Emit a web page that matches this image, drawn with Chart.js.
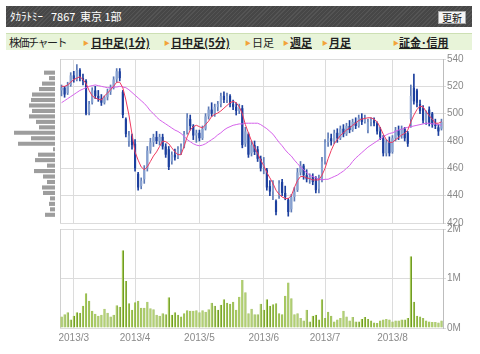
<!DOCTYPE html>
<html><head><meta charset="utf-8">
<script src="https://cdn.jsdelivr.net/npm/chart.js@4.4.1/dist/chart.umd.min.js"></script>
<style>
html,body{margin:0;padding:0;background:#fff;width:480px;height:354px;overflow:hidden;font-family:"Noto Sans CJK JP",sans-serif;}
#hdr{position:absolute;left:6px;top:6px;width:466px;height:21px;background:#474747 repeating-linear-gradient(-45deg,rgba(255,255,255,0.07) 0 1px,rgba(0,0,0,0) 1px 3px);}
.h{position:absolute;top:3px;color:#fff;font-size:11px;line-height:15px;white-space:pre;}
#btn{position:absolute;left:432px;top:5px;width:26px;height:11px;background:#f4f4f4;border:1px solid #aaa;font-size:10px;line-height:11px;text-align:center;color:#111;}
#tabs{position:absolute;left:6px;top:33px;width:466px;height:16px;background:#e8f4d9;border-top:1px solid #cde0b4;}
.t{position:absolute;top:0;font-size:11px;line-height:17px;color:#222;white-space:nowrap;}
.u{font-weight:bold;text-decoration:underline;}
.a{position:absolute;top:0;font-size:6px;line-height:17px;color:#f2a33a;}
canvas{position:absolute;}
#prof{left:0;top:50px;}
#price{left:0;top:50px;}
#vol{left:0;top:222px;}
</style></head>
<body>
<div id="hdr">
<span class="h" style="left:4px">ﾀｶﾗﾄﾐｰ</span><span class="h" style="left:45px">7867</span><span class="h" style="left:74px">東京 1部</span>
<span id="btn">更新</span>
</div>
<div id="tabs">
<span class="t" style="left:3px;letter-spacing:-1.5px">株価チャート</span>
<span class="a" style="left:77px">▶</span><span class="t u" style="left:85px">日中足(1分)</span>
<span class="a" style="left:158px">▶</span><span class="t u" style="left:165px">日中足(5分)</span>
<span class="a" style="left:239px">▶</span><span class="t" style="left:246px">日足</span>
<span class="a" style="left:277px">▶</span><span class="t u" style="left:284px">週足</span>
<span class="a" style="left:316px">▶</span><span class="t u" style="left:323px">月足</span>
<span class="a" style="left:387px">▶</span><span class="t u" style="left:393px">証金･信用</span>
</div>
<canvas id="prof" width="60" height="182"></canvas>
<canvas id="price" width="480" height="182"></canvas>
<canvas id="vol" width="480" height="132"></canvas>
<script>
const dates = [
'2013/2/25','2013/2/26','2013/2/27','2013/2/28',
'2013/3/1','2013/3/4','2013/3/5','2013/3/6','2013/3/7','2013/3/8','2013/3/11','2013/3/12','2013/3/13','2013/3/14','2013/3/15','2013/3/18','2013/3/19','2013/3/21','2013/3/22','2013/3/25','2013/3/26','2013/3/27','2013/3/28','2013/3/29',
'2013/4/1','2013/4/2','2013/4/3','2013/4/4','2013/4/5','2013/4/8','2013/4/9','2013/4/10','2013/4/11','2013/4/12','2013/4/15','2013/4/16','2013/4/17','2013/4/18','2013/4/19','2013/4/22','2013/4/23','2013/4/24','2013/4/25','2013/4/26','2013/4/30',
'2013/5/1','2013/5/2','2013/5/7','2013/5/8','2013/5/9','2013/5/10','2013/5/13','2013/5/14','2013/5/15','2013/5/16','2013/5/17','2013/5/20','2013/5/21','2013/5/22','2013/5/23','2013/5/24','2013/5/27','2013/5/28','2013/5/29','2013/5/30','2013/5/31',
'2013/6/3','2013/6/4','2013/6/5','2013/6/6','2013/6/7','2013/6/10','2013/6/11','2013/6/12','2013/6/13','2013/6/14','2013/6/17','2013/6/18','2013/6/19','2013/6/20','2013/6/21','2013/6/24','2013/6/25','2013/6/26','2013/6/27','2013/6/28',
'2013/7/1','2013/7/2','2013/7/3','2013/7/4','2013/7/5','2013/7/8','2013/7/9','2013/7/10','2013/7/11','2013/7/12','2013/7/16','2013/7/17','2013/7/18','2013/7/19','2013/7/22','2013/7/23','2013/7/24','2013/7/25','2013/7/26','2013/7/29','2013/7/30','2013/7/31',
'2013/8/1','2013/8/2','2013/8/5','2013/8/6','2013/8/7','2013/8/8','2013/8/9','2013/8/12','2013/8/13','2013/8/14','2013/8/15','2013/8/16','2013/8/19','2013/8/20','2013/8/21','2013/8/22','2013/8/23'];

const openP = [517,519,515,521,528,525,532,526,524,501,508,517,513,511,508,512,516,519,525,531,
516,496,480,484,478,456,447,452,460,473,479,483,480,483,476,474,465,470,468,474,
476,486,496,491,484,486,482,489,498,503,500,505,507,513,510,513,507,505,502,504,
478,485,471,477,474,467,461,459,447,443,436,440,450,442,437,430,439,444,457,462,
455,452,454,453,445,452,465,479,482,480,486,482,489,485,491,488,494,491,497,494,
488,494,495,493,487,482,471,479,472,482,488,484,489,486,496,519,517,507,504,494,
503,500,492,490,489];
const highP = [521,520,523,530,531,536,533,529,525,509,519,520,517,514,513,518,521,527,533,533,
517,497,487,485,481,457,453,462,476,482,485,487,485,485,478,476,472,474,476,478,
487,500,499,492,488,488,491,500,505,508,507,509,515,516,515,514,510,508,507,506,
490,486,480,480,476,469,468,460,451,451,437,451,452,447,438,441,446,460,465,463,
459,456,456,454,455,468,481,486,485,488,489,491,492,493,495,496,497,499,500,499,
496,497,497,494,490,484,481,483,484,490,491,491,490,487,521,529,518,510,506,502,
505,501,496,492,496];
const lowP = [513,512,514,520,523,524,524,521,499,499,507,511,509,506,507,510,514,518,523,524,
497,483,476,474,458,444,445,449,458,471,476,478,477,474,468,459,463,466,467,470,
475,485,488,481,479,480,481,488,496,498,498,502,505,508,508,505,503,499,500,475,
476,468,469,470,465,458,456,444,440,437,426,438,440,437,425,428,436,443,455,452,
450,449,448,442,442,450,463,476,477,478,479,481,483,484,486,487,489,490,492,493,
486,491,491,485,481,469,469,469,471,480,481,482,480,476,490,507,505,500,493,492,
491,490,489,484,488];
const closeP = [519,514,521,528,525,532,526,524,500,507,517,513,511,508,512,516,519,525,531,526,
499,485,484,477,460,446,451,459,473,479,483,480,483,476,470,461,470,468,474,476,
485,497,491,484,486,482,489,498,503,500,505,507,513,510,513,507,505,502,504,477,
487,470,477,472,467,460,464,446,443,448,428,449,442,439,428,439,443,457,462,455,
452,454,450,444,452,465,479,482,480,486,482,489,485,491,488,494,491,497,494,496,
494,495,493,487,483,471,479,471,482,488,484,489,482,478,513,509,508,502,495,500,
493,492,491,487,494];

const ma5 = [520,520,521,523,525,526,527,525,522,517,513,511.5,510.5,510,513,515,517.5,520,523,523,
519,510,499,485,472,466,461,459,461,465,469,472,476,480,479.5,478,475,472,470,470,
476,483,488,490.5,491.5,490.5,489.5,492,494.5,498,499.5,500.5,502,504,506,508,509,508,505,500,
492,486,480,475,471,466,462,457,453,449,444,441,439,438,438,440,446,451,454,454,
453,452.5,451.5,451.5,451.5,455,460,467,473,478,481,484,486,488,489.5,491.5,493,495,496,496.5,
497,497,496,494,490,485,481,479,479,481,482.5,484.4,485.5,488,494,499,503,505.5,505,501.5,
498.5,496,493,493,494];
const ma25 = [508,509.5,511,512.5,514,515.5,517,518,519,520,520.5,521,520.5,520,519.5,519,519,519.5,519.5,520,
519.5,519,517.5,515.5,513.5,511.5,509.5,507.5,505,502,500,497.5,495.5,494,492.5,491,489.5,488,487,485.5,
483.5,481,479.5,478,477,476.5,477,478,479.5,481,482.5,484.5,486,488,489.5,490.5,491.5,492,492.5,492.5,
493,493,493,493,493,492,490.5,489,487,485,482,479,476.5,473.5,471,469,466,463.5,461,459,
457,455,454,453,452,451.5,452,452,453,454,455,456.5,458,460,462,465,467.5,469.5,471.5,473.5,
475.5,477,478.5,480,481.5,483,484.5,485.5,486,487,488,488.5,489.5,490,490.5,491,491.5,492,492.5,493,
493,492.5,492.5,492,491.5];

// volume in millions of shares
const volume = [0.23,0.28,0.32,0.17,0.25,0.32,0.31,0.45,0.70,0.55,0.35,0.29,0.25,0.27,0.39,0.31,0.23,0.27,0.46,0.43,
1.57,0.95,0.50,0.37,0.52,0.55,0.41,0.41,0.53,0.40,0.38,0.27,0.25,0.30,0.28,0.62,0.27,0.32,0.27,0.23,
0.30,0.36,0.35,0.35,0.36,0.32,0.36,0.33,0.38,0.51,0.45,0.37,0.47,0.58,0.51,0.49,0.53,0.37,0.63,
0.97,0.72,0.30,0.39,0.28,0.28,0.49,0.37,0.58,0.45,0.48,0.50,0.30,0.28,0.65,0.92,0.60,0.28,0.30,0.20,
0.15,0.37,0.13,0.25,0.27,0.17,0.58,0.20,0.33,0.25,0.13,0.17,0.20,0.35,0.23,0.15,0.22,0.13,0.13,0.18,
0.22,0.18,0.15,0.11,0.10,0.15,0.17,0.18,0.17,0.13,0.15,0.15,0.17,0.17,0.20,1.45,0.53,0.25,0.23,0.20,
0.15,0.13,0.12,0.12,0.11,0.15];

const priceTicks = [420,440,460,480,500,520,540];
const volTicks = ['0M','1M','2M'];
// price-by-volume profile (4-yen bins, top to bottom), relative volume
const profileBins = [538,534,530,526,522,518,514,510,506,502,498,494,490,486,482,478,474,470,466,462,458,454,450,446,442,438,434,430,426,422];
const profileVol = [0,0,11,6,13,16,23,24,26,23,26,19,16,41,24,37,2,17,20,8,21,12,8,13,12,5,6,5,10,0];

const monthStart = dates.map((d,i)=> i>0 && d.split('/')[1] !== dates[i-1].split('/')[1]);
const monthLabel = i => { const p = dates[i].split('/'); return p[0]+'/'+p[1]; };
const gridCol = '#dcdcdc';
const axisFont = {family:'"Liberation Sans", Arial, sans-serif', size:10};

const framePlugin = {id:'frame', beforeDatasetsDraw(chart){
  const {ctx, chartArea:a} = chart;
  ctx.save(); ctx.strokeStyle = '#d0d0d0'; ctx.lineWidth = 1;
  ctx.beginPath(); ctx.moveTo(a.left+0.5, a.top); ctx.lineTo(a.left+0.5, a.bottom); ctx.stroke();
  ctx.restore();
}};

const upBody = '#87a1d0', upWick = '#5d7ab6', dnBody = '#1c3f9e';
const isUp = closeP.map((c,i)=> c >= openP[i]);

new Chart(document.getElementById('price'), {
  type:'bar',
  data:{labels:dates, datasets:[
    {type:'line', data:ma5, borderColor:'#ee3a60', borderWidth:1, pointRadius:0, order:0},
    {type:'line', data:ma25, borderColor:'#d562ea', borderWidth:1, pointRadius:0, order:1},
    {data:lowP.map((l,i)=>[l, highP[i]]), backgroundColor:isUp.map(u=>u?upWick:dnBody), barThickness:1, grouped:false, order:3},
    {data:openP.map((o,i)=>[o, closeP[i]]), backgroundColor:isUp.map(u=>u?upBody:dnBody), barPercentage:0.7, categoryPercentage:1, grouped:false, order:2}
  ]},
  options:{
    responsive:false, animation:false,
    layout:{padding:{left:60, top:9, bottom:9, right:0}},
    plugins:{legend:{display:false}, tooltip:{enabled:false}},
    scales:{
      x:{offset:true, grid:{offset:false, drawTicks:false, color:c=> monthStart[c.index] ? gridCol : 'rgba(0,0,0,0)'},
         ticks:{display:false, autoSkip:false}, border:{display:false}, afterFit(s){s.height=0;}},
      y:{position:'right', min:420, max:540,
         afterBuildTicks(s){ s.ticks = priceTicks.map(v=>({value:v})); },
         ticks:{color:'#8a8a8a', font:axisFont, padding:1},
         grid:{color:gridCol, tickLength:3}, border:{color:'#bdbdbd'},
         afterFit(s){s.width=37;}}
    }
  },
  plugins:[framePlugin]
});

new Chart(document.getElementById('vol'), {
  type:'bar',
  data:{labels:dates, datasets:[
    {data:volume, backgroundColor:'#a6c957', borderColor:'#6f9b25', borderWidth:{left:0, top:0, bottom:0, right:1}, borderSkipped:false, barPercentage:0.78, categoryPercentage:1}
  ]},
  options:{
    responsive:false, animation:false,
    layout:{padding:{left:60, top:7, bottom:0, right:0}},
    plugins:{legend:{display:false}, tooltip:{enabled:false}},
    scales:{
      x:{offset:true, grid:{offset:false, drawTicks:false, color:c=> monthStart[c.index] ? gridCol : 'rgba(0,0,0,0)'},
         ticks:{autoSkip:false, maxRotation:0, color:'#8a8a8a', font:axisFont, padding:4,
                callback:(v,i)=> monthStart[i] ? monthLabel(i) : ''},
         border:{display:false}, afterFit(s){s.height=26;}},
      y:{position:'right', min:0, max:2,
         afterBuildTicks(s){ s.ticks = volTicks.map((t,i)=>({value:i})); },
         ticks:{color:'#8a8a8a', font:axisFont, padding:1, callback:(v,i)=> volTicks[i]},
         grid:{color:gridCol, tickLength:3}, border:{color:'#bdbdbd'},
         afterFit(s){s.width=37;}}
    }
  },
  plugins:[framePlugin]
});

new Chart(document.getElementById('prof'), {
  type:'bar',
  data:{labels:profileBins, datasets:[
    {data:profileVol, backgroundColor:'#9d9d9d', barPercentage:0.75, categoryPercentage:1}
  ]},
  options:{
    indexAxis:'y', responsive:false, animation:false,
    layout:{padding:{left:0, top:9, bottom:9, right:5}},
    plugins:{legend:{display:false}, tooltip:{enabled:false}},
    scales:{
      x:{display:false, reverse:true, min:0, max:55},
      y:{display:false}
    }
  }
});
</script>
</body></html>
